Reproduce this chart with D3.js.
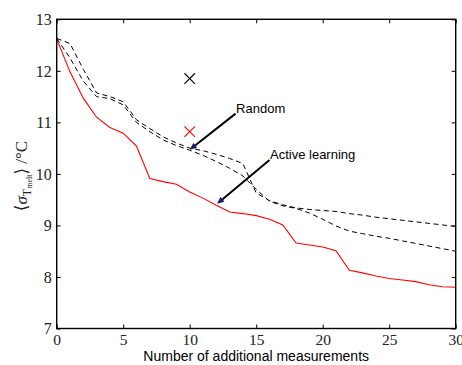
<!DOCTYPE html>
<html>
<head>
<meta charset="utf-8">
<script src="https://cdn.jsdelivr.net/npm/d3@7"></script>
<style>
  html, body { margin: 0; padding: 0; background: #fff; }
  svg { display: block; }
</style>
</head>
<body>
<svg id="chart" width="462" height="365"></svg>
<script>
// ---- data ----
const steps = [0,1,2,3,4,5,6,7,8,9,10,11,12,13,14,15,16,17,18,19,20,21,22,23,24,25,26,27,28,29,30];
const activeLearning = [12.62, 11.98, 11.47, 11.10, 10.90, 10.79, 10.54, 9.91, 9.85, 9.80, 9.65, 9.53, 9.39, 9.26, 9.23, 9.19, 9.12, 9.01, 8.66, 8.62, 8.58, 8.51, 8.13, 8.08, 8.02, 7.97, 7.94, 7.91, 7.85, 7.81, 7.80];
const randomA = [12.63, 12.53, 12.03, 11.57, 11.50, 11.40, 11.05, 10.88, 10.72, 10.60, 10.50, 10.45, 10.38, 10.30, 10.20, 9.63, 9.48, 9.40, 9.34, 9.31, 9.29, 9.27, 9.23, 9.20, 9.16, 9.13, 9.10, 9.07, 9.04, 9.01, 8.98];
const randomB = [12.63, 12.25, 11.80, 11.50, 11.46, 11.34, 11.00, 10.82, 10.66, 10.55, 10.46, 10.36, 10.24, 10.11, 9.96, 9.70, 9.47, 9.38, 9.33, 9.24, 9.12, 8.99, 8.89, 8.84, 8.79, 8.75, 8.70, 8.65, 8.60, 8.55, 8.50];
const crossMarkers = [
  { x: 10, y: 11.85, color: "#000000" },
  { x: 10, y: 10.82, color: "#ff0000" }
];
const annotations = [
  { label: "Random", textX: 13.45, textY: 11.17, headX: 10.05, headY: 10.48 },
  { label: "Active learning", textX: 16.0, textY: 10.27, headX: 12.1, headY: 9.43 }
];
const xTicks = [0, 5, 10, 15, 20, 25, 30];
const yTicks = [7, 8, 9, 10, 11, 12, 13];
const xLabel = "Number of additional measurements";

// ---- layout ----
const W = 462, H = 365;
const m = { left: 56.7, right: 6.3, top: 19.3, bottom: 36.5 };
const svg = d3.select("#chart");
const x = d3.scaleLinear().domain([0, 30]).range([m.left, W - m.right]);
const y = d3.scaleLinear().domain([7, 13]).range([H - m.bottom, m.top]);

const serif = "'Liberation Serif', 'DejaVu Serif', serif";
const sans = "'Liberation Sans', Arial, Helvetica, sans-serif";

// lines
const line = d3.line().x((d, i) => x(steps[i])).y(d => y(d));
svg.append("path").datum(randomA).attr("d", line)
  .attr("fill", "none").attr("stroke", "#000").attr("stroke-width", 1)
  .attr("stroke-dasharray", "5,3.5");
svg.append("path").datum(randomB).attr("d", line)
  .attr("fill", "none").attr("stroke", "#000").attr("stroke-width", 1)
  .attr("stroke-dasharray", "5,3.5");
svg.append("path").datum(activeLearning).attr("d", line)
  .attr("fill", "none").attr("stroke", "#ff0000").attr("stroke-width", 1.1);

// cross markers
const s = 5.3;
crossMarkers.forEach(c => {
  const cx = x(c.x), cy = y(c.y);
  svg.append("path")
    .attr("d", `M${cx - s},${cy - s}L${cx + s},${cy + s}M${cx - s},${cy + s}L${cx + s},${cy - s}`)
    .attr("stroke", c.color).attr("stroke-width", 1.1).attr("fill", "none");
});

// annotations with arrows
annotations.forEach(a => {
  const x0 = x(a.textX), y0 = y(a.textY);
  const x1 = x(a.headX), y1 = y(a.headY);
  const ang = Math.atan2(y1 - y0, x1 - x0);
  const hl = 6, hw = 2.6;
  const bx = x1 - hl * Math.cos(ang), by = y1 - hl * Math.sin(ang);
  svg.append("line").attr("x1", x0).attr("y1", y0).attr("x2", bx).attr("y2", by)
    .attr("stroke", "#000").attr("stroke-width", 2);
  const px = -Math.sin(ang) * hw, py = Math.cos(ang) * hw;
  svg.append("path")
    .attr("d", `M${x1},${y1}L${bx + px},${by + py}L${bx - px},${by - py}Z`)
    .attr("fill", "#1a1a8c").attr("stroke", "#000").attr("stroke-width", 0.6);
  svg.append("text").attr("x", x0 + 0.5).attr("y", y0 - 0.5)
    .style("font-family", sans).style("font-size", "13px").attr("fill", "#000")
    .text(a.label);
});

// frame
svg.append("rect").attr("x", m.left).attr("y", m.top)
  .attr("width", W - m.left - m.right).attr("height", H - m.top - m.bottom)
  .attr("fill", "none").attr("stroke", "#000").attr("stroke-width", 1.4);

// axes (inward ticks on all four sides)
const tl = 4;
const fmt = d3.format("d");
const gB = svg.append("g").attr("transform", `translate(0,${H - m.bottom})`)
  .call(d3.axisBottom(x).tickValues(xTicks).tickFormat(fmt).tickSizeInner(-tl).tickSizeOuter(0).tickPadding(5));
const gT = svg.append("g").attr("transform", `translate(0,${m.top})`)
  .call(d3.axisTop(x).tickValues(xTicks).tickSizeInner(-tl).tickSizeOuter(0).tickFormat(""));
const gL = svg.append("g").attr("transform", `translate(${m.left},0)`)
  .call(d3.axisLeft(y).tickValues(yTicks).tickFormat(fmt).tickSizeInner(-tl).tickSizeOuter(0).tickPadding(5));
const gR = svg.append("g").attr("transform", `translate(${W - m.right},0)`)
  .call(d3.axisRight(y).tickValues(yTicks).tickSizeInner(-tl).tickSizeOuter(0).tickFormat(""));
[gB, gT, gL, gR].forEach(g => {
  g.attr("font-family", null).attr("font-size", null);
  g.select(".domain").remove();
  g.selectAll(".tick line").attr("stroke", "#000").attr("stroke-width", 1);
});
gB.selectAll(".tick text").style("font-family", serif).style("font-size", "15.5px").attr("fill", "#222")
  .attr("dy", "0.72em");
gL.selectAll(".tick text").style("font-family", serif).style("font-size", "16px").attr("fill", "#222")
  .attr("dy", "0.34em");

// x label
svg.append("text").attr("x", (m.left + W - m.right) / 2).attr("y", 361)
  .attr("text-anchor", "middle").style("font-family", sans).style("font-size", "14px")
  .attr("fill", "#000").text(xLabel);

// y label: <sigma_{T_melt}> / °C
const yl = svg.append("text")
  .attr("transform", "translate(27,176) rotate(-90)")
  .attr("text-anchor", "middle").style("font-family", serif).style("font-size", "17px").attr("fill", "#222");
yl.append("tspan").text("\u27E8");
yl.append("tspan").attr("font-style", "italic").text("\u03C3");
yl.append("tspan").style("font-size", "12px").attr("dy", 3.5).text("T");
yl.append("tspan").style("font-size", "8px").attr("dy", 1.5).text("melt");
yl.append("tspan").attr("dy", -5).text("\u27E9");
yl.append("tspan").text(" /\u00B0C");
</script>
</body>
</html>
